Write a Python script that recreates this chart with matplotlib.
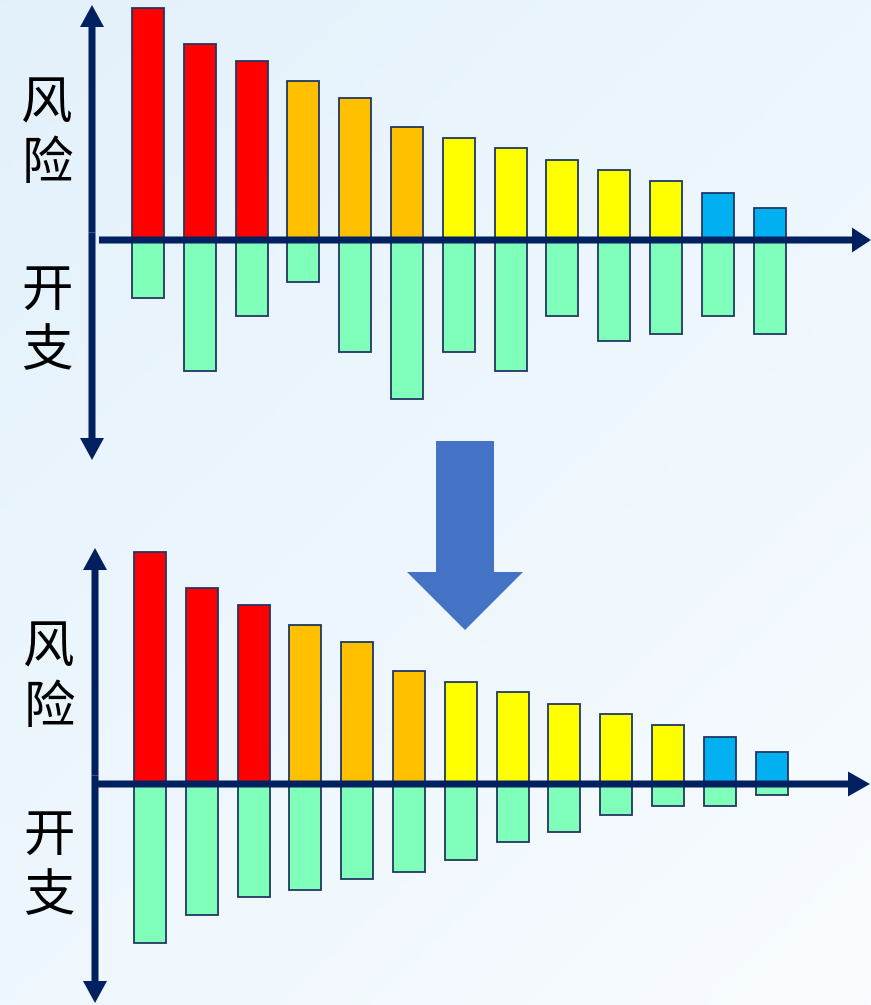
import numpy as np
import matplotlib
matplotlib.use('Agg')
import matplotlib.pyplot as plt

plt.rcParams['font.family'] = ['Noto Sans CJK SC', 'DejaVu Sans']

# data (pixel heights)
risk = [232, 196, 179, 159, 142, 113, 102, 92, 80, 70, 59, 47, 32]
cost_before = [58, 131, 76, 42, 112, 159, 112, 131, 76, 101, 94, 76, 94]
cost_after = [159, 131, 113, 106, 95, 88, 76, 58, 48, 31, 22, 22, 11]
risk_colors = ['#FF0000'] * 3 + ['#FFC000'] * 3 + ['#FFFF00'] * 5 + ['#00B0F0'] * 2
cost_color = '#80FFBA'
edge = '#1F3864'
navy = '#002060'

W, H = 871, 1005
fig = plt.figure(figsize=(W / 100, H / 100), dpi=100)

# background gradient
bg = fig.add_axes([0, 0, 1, 1], zorder=0)
yy, xx = np.mgrid[0:1:200j, 0:1:200j]
t = np.clip(0.55 * yy + 0.45 * xx, 0, 1)
c0 = np.array([0.89, 0.945, 0.985])
c1 = np.array([0.975, 0.988, 1.0])
img = c0[None, None, :] * (1 - t[..., None]) + c1[None, None, :] * t[..., None]
bg.imshow(img, aspect='auto', extent=[0, 1, 1, 0])
bg.axis('off')

# overlay in pixel units for arrows and labels
ov = fig.add_axes([0, 0, 1, 1], zorder=5)
ov.set_xlim(0, W)
ov.set_ylim(H, 0)
ov.axis('off')
ov.patch.set_alpha(0)


def panel(risk_vals, cost_vals, axis_x, axis_y, c0, top, bottom, step=51.8):
    ax = fig.add_axes([axis_x / W, (H - bottom) / H, (W - axis_x) / W, (bottom - top) / H], zorder=2)
    ax.patch.set_alpha(0)
    x = np.arange(len(risk_vals))
    ax.bar(x, risk_vals, width=0.62, color=risk_colors, edgecolor=edge, linewidth=1.3)
    ax.bar(x, -np.array(cost_vals), width=0.62, color=cost_color, edgecolor=edge, linewidth=1.3)
    ax.set_xlim((axis_x - c0) / step, (W - c0) / step)
    ax.set_ylim(-(bottom - axis_y), axis_y - top)
    ax.axis('off')
    return ax


def double_arrow(x, y0, y1):
    mid = (y0 + y1) / 2
    for end in (y0, y1):
        ov.arrow(x, mid, 0, end - mid, width=7, head_width=24, head_length=22,
                 length_includes_head=True, color=navy, linewidth=0)


# top panel
panel(risk, cost_before, 92, 240, 148, 0, 462)
double_arrow(92, 5, 460)
ov.arrow(99, 240, 772, 0, width=7, head_width=25, head_length=19,
         length_includes_head=True, color=navy, linewidth=0)
ov.text(47, 134, '风\n险', fontsize=37, ha='center', va='center', linespacing=1.17)
ov.text(47, 321, '开\n支', fontsize=37, ha='center', va='center', linespacing=1.17)

# bottom panel
panel(risk, cost_after, 95, 784, 150, 545, 1005)
double_arrow(95, 548, 1003)
ov.arrow(92, 784, 778, 0, width=7, head_width=25, head_length=22,
         length_includes_head=True, color=navy, linewidth=0)
ov.text(49, 678, '风\n险', fontsize=37, ha='center', va='center', linespacing=1.17)
ov.text(49, 866, '开\n支', fontsize=37, ha='center', va='center', linespacing=1.17)

# big arrow between the two
ov.arrow(465, 441, 0, 189, width=58, head_width=116, head_length=58,
         length_includes_head=True, color='#4472C4', linewidth=0)

fig.savefig('out.png', dpi=100)
